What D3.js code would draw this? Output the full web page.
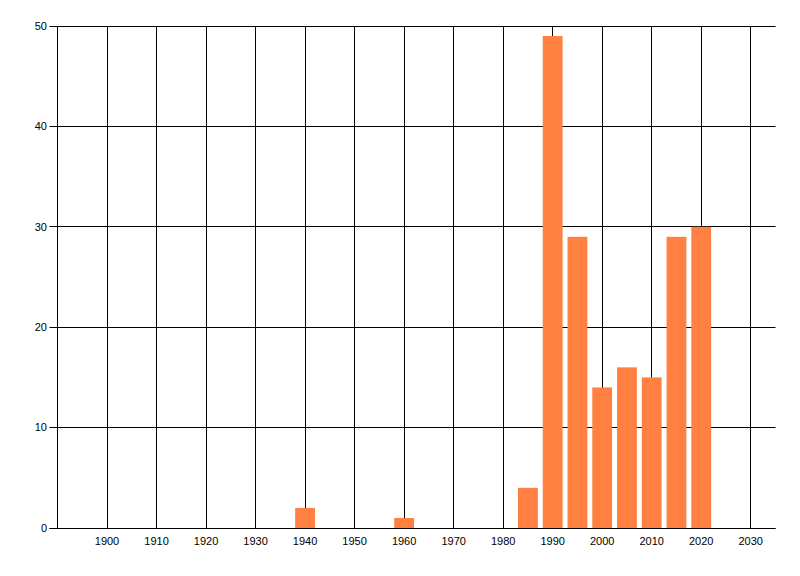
<!DOCTYPE html>
<html>
<head>
<meta charset="utf-8">
<script src="https://cdn.jsdelivr.net/npm/d3@7"></script>
<style>
  html, body { margin: 0; padding: 0; background: #fff; }
  svg text { font-family: "Liberation Sans", Arial, sans-serif; font-size: 11px; fill: #000; }
</style>
</head>
<body>
<div id="chart"></div>
<script>
// values
var years  = [1940, 1960, 1985, 1990, 1995, 2000, 2005, 2010, 2015, 2020];
var counts = [2, 1, 4, 49, 29, 14, 16, 15, 29, 30];
var xTicks = [1900, 1910, 1920, 1930, 1940, 1950, 1960, 1970, 1980, 1990, 2000, 2010, 2020, 2030];
var yTicks = [0, 10, 20, 30, 40, 50];

var width = 800, height = 576;

var svg = d3.select('#chart').append('svg')
    .attr('width', width)
    .attr('height', height);

var x = d3.scaleLinear().domain([1890, 2035]).range([57.5, 775.5]);
var y = d3.scaleLinear().domain([0, 50]).range([528, 26]);

var snap = function(v) { return Math.round(v - 0.5) + 0.5; };

// vertical grid lines, one per decade
svg.append('g').selectAll('line').data(xTicks).enter().append('line')
    .attr('x1', function(d) { return snap(x(d)); })
    .attr('x2', function(d) { return snap(x(d)); })
    .attr('y1', y(50))
    .attr('y2', y(0))
    .attr('stroke', '#000')
    .attr('stroke-width', 1);

// horizontal grid lines with the small tick stub on the left
svg.append('g').selectAll('line').data(yTicks).enter().append('line')
    .attr('x1', x.range()[0] - 8)
    .attr('x2', x.range()[1])
    .attr('y1', function(d) { return snap(y(d)); })
    .attr('y2', function(d) { return snap(y(d)); })
    .attr('stroke', '#000')
    .attr('stroke-width', 1);

// y axis line
svg.append('line')
    .attr('x1', snap(x(1890))).attr('x2', snap(x(1890)))
    .attr('y1', y(50)).attr('y2', y(0))
    .attr('stroke', '#000');

// bars: each one spans two years either side of its date
svg.append('g').selectAll('rect').data(years).enter().append('rect')
    .attr('x', function(d) { return x(d - 2); })
    .attr('width', function(d) { return x(d + 2) - x(d - 2); })
    .attr('y', function(d, i) { return y(counts[i]); })
    .attr('height', function(d, i) { return y(0) - y(counts[i]); })
    .attr('fill', 'rgb(255,128,64)');

// baseline drawn over the bars
svg.append('line')
    .attr('x1', x.range()[0] - 8).attr('x2', x.range()[1])
    .attr('y1', snap(y(0))).attr('y2', snap(y(0)))
    .attr('stroke', '#000');

// tick labels
svg.append('g').selectAll('text').data(yTicks).enter().append('text')
    .attr('x', 47)
    .attr('y', function(d) { return y(d); })
    .attr('dy', '0.35em')
    .attr('text-anchor', 'end')
    .text(function(d) { return d; });

svg.append('g').selectAll('text').data(xTicks).enter().append('text')
    .attr('x', function(d) { return x(d); })
    .attr('y', 545)
    .attr('text-anchor', 'middle')
    .text(function(d) { return d; });
</script>
</body>
</html>
